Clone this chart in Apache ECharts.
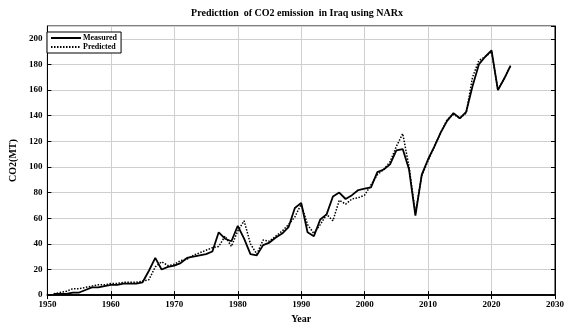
<!DOCTYPE html>
<html>
<head>
<meta charset="utf-8">
<script src="https://cdn.jsdelivr.net/npm/echarts@6/dist/echarts.min.js"></script>
<style>
  html, body { margin: 0; padding: 0; background: #fff; }
  #main { width: 567px; height: 329px; }
</style>
</head>
<body>
<div id="main"></div>
<script>
var years = [1951,1952,1953,1954,1955,1956,1957,1958,1959,1960,
             1961,1962,1963,1964,1965,1966,1967,1968,1969,1970,
             1971,1972,1973,1974,1975,1976,1977,1978,1979,1980,
             1981,1982,1983,1984,1985,1986,1987,1988,1989,1990,
             1991,1992,1993,1994,1995,1996,1997,1998,1999,2000,
             2001,2002,2003,2004,2005,2006,2007,2008,2009,2010,
             2011,2012,2013,2014,2015,2016,2017,2018,2019,2020,
             2021,2022,2023]

var measured = [1,1,1,2,2,4,6,6,7,8,
                8,9,9,9,10,19,29,20,22,23,
                25,29,30,31,32,34,49,44,42,54,
                44,32,31,39,41,45,48,53,68,72,
                49,46,59,63,77,80,75,78,82,83,
                84,96,98,102,113,114,98,62,94,106,
                116,127,136,142,138,143,163,180,186,191,
                160,169,179]

var predicted = [1,2,3,5,5,6,7,8,8,9,
                 9,10,10,10,11,12,22,26,23,24,
                 27,28,31,33,35,37,38,46,38,50,
                 58,40,32,43,42,46,50,55,61,71,
                 55,48,55,63,58,74,71,75,76,78,
                 86,94,98,104,116,126,100,64,93,105,
                 116,127,137,141,138,142,170,183,186,190,
                 160,169,179]

var xTicks = [1950,1960,1970,1980,1990,2000,2010,2020,2030]
var yTicks = [0,20,40,60,80,100,120,140,160,180,200]

function pairs(vals){
    var out = []
    for (var i = 0; i < years.length; i++) out.push([years[i], vals[i]])
    return out
}

var font = "'Liberation Serif', 'DejaVu Serif', serif"
var gridLine = { show: true, lineStyle: { color: '#cfcfcf', width: 1 } }

var myChart = echarts.init(document.getElementById('main'))

var option = {
    backgroundColor: '#fff',
    animation: false,
    title: {
        text: 'Predicttion  of CO2 emission  in Iraq using NARx',
        left: 292,
        textAlign: 'center',
        top: 3,
        textStyle: { fontFamily: font, fontSize: 10, fontWeight: 'bold', color: '#000' }
    },
    legend: {
        orient: 'vertical',
        left: 47,
        top: 32,
        padding: [2, 4, 2, 3],
        itemGap: 1,
        itemWidth: 30,
        itemHeight: 8,
        borderColor: '#000',
        borderWidth: 1,
        backgroundColor: '#fff',
        itemStyle: { opacity: 0 },
        textStyle: { fontFamily: font, fontSize: 8, fontWeight: 'bold', color: '#000', padding: [0, 0, 0, -3] },
        data: ['Measured', 'Predicted']
    },
    grid: { left: 36, right: 8, top: 26, bottom: 26, show: true, borderColor: '#000', borderWidth: 1 },
    xAxis: [{
        type: 'value',
        min: 1950, max: 2030, interval: 10,
        name: 'Year',
        nameLocation: 'middle',
        nameGap: 16,
        nameTextStyle: { fontFamily: font, fontSize: 10, fontWeight: 'bold', color: '#000' },
        axisLine: { show: true, lineStyle: { color: '#000', width: 1.5 } },
        axisTick: { show: true, inside: true, length: 4, lineStyle: { color: '#000' } },
        axisLabel: {
            fontFamily: font, fontSize: 9, fontWeight: 'bold', color: '#000', margin: 5,
            formatter: function(v){ return xTicks.indexOf(v) >= 0 ? String(v) : '' }
        },
        splitLine: gridLine
    }, {
        type: 'value',
        position: 'top',
        min: 1950, max: 2030, interval: 10,
        axisLine: { show: true, lineStyle: { color: '#000', width: 1.5 } },
        axisTick: { show: true, inside: true, length: 4, lineStyle: { color: '#000' } },
        axisLabel: { show: false },
        splitLine: { show: false }
    }],
    yAxis: [{
        type: 'value',
        min: 0, max: 210, interval: 20,
        name: 'CO2(MT)',
        nameLocation: 'middle',
        nameGap: 24,
        nameTextStyle: { fontFamily: font, fontSize: 10, fontWeight: 'bold', color: '#000' },
        axisLine: { show: true, lineStyle: { color: '#000', width: 1 } },
        axisTick: { show: true, inside: true, length: 4, lineStyle: { color: '#000' } },
        axisLabel: {
            fontFamily: font, fontSize: 9, fontWeight: 'bold', color: '#000', margin: 5,
            showMaxLabel: false,
            formatter: function(v){ return yTicks.indexOf(v) >= 0 ? String(v) : '' }
        },
        splitLine: gridLine
    }, {
        type: 'value',
        position: 'right',
        min: 0, max: 210, interval: 20,
        axisLine: { show: true, lineStyle: { color: '#000', width: 1 } },
        axisTick: { show: true, inside: true, length: 4, lineStyle: { color: '#000' } },
        axisLabel: { show: false },
        splitLine: { show: false }
    }],
    series: [{
        name: 'Measured',
        type: 'line',
        symbol: 'none',
        data: pairs(measured),
        lineStyle: { color: '#000', width: 1.8, type: 'solid' },
        itemStyle: { color: '#000' },
        z: 3
    }, {
        name: 'Predicted',
        type: 'line',
        symbol: 'none',
        data: pairs(predicted),
        lineStyle: { color: '#000', width: 1.5, type: [1.5, 1.5] },
        itemStyle: { color: '#000' },
        z: 2
    }]
}
myChart.setOption(option)
</script>
</body>
</html>
